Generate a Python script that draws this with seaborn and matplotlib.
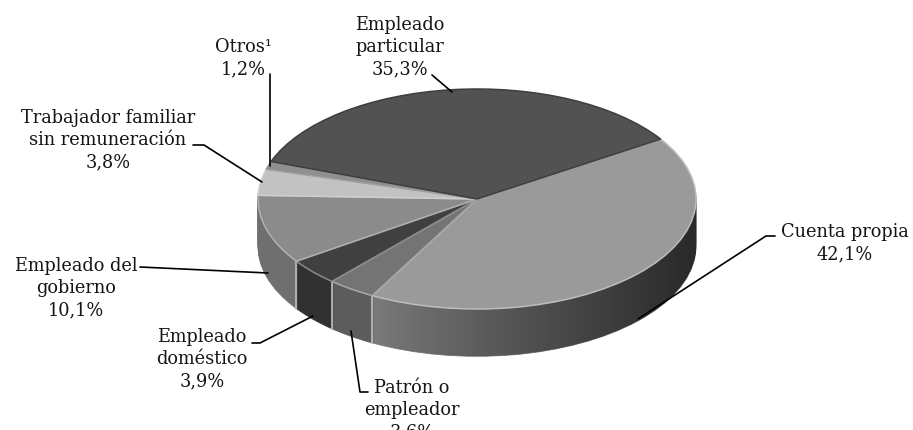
import numpy as np
import seaborn as sns
import matplotlib.pyplot as plt
from matplotlib.path import Path

# values, clockwise from the top right boundary
categories = ["Cuenta propia", "Patrón o empleador", "Empleado doméstico",
              "Empleado del gobierno", "Trabajador familiar sin remuneración",
              "Otros¹", "Empleado particular"]
shares = [42.1, 3.6, 3.9, 10.1, 3.8, 1.2, 35.3]

top_colors = ["#9a9a9a", "#747474", "#404040", "#8b8b8b", "#c2c2c2", "#8f8f8f", "#525252"]
side_colors = ["#7c7c7c", "#5c5c5c", "#313131", "#6f6f6f", "#888888", "#666666", "#3c3c3c"]
edge_colors = ["#bdbdbd", "#a8a8a8", "#8a8a8a", "#b0b0b0", "#cfcfcf", "#a0a0a0", "#3e3e3e"]

labels = ["Empleado\nparticular\n35,3%", "Otros¹\n1,2%",
          "Trabajador familiar\nsin remuneración\n3,8%", "Cuenta propia\n42,1%",
          "Empleado del\ngobierno\n10,1%", "Empleado\ndoméstico\n3,9%",
          "Patrón o\nempleador\n3,6%"]
label_pos = [(400, 47), (243, 58), (108, 140), (845, 243), (76, 288), (202, 359), (412, 410)]

leaders = [
    [(432, 76), (452, 93)],
    [(270, 75), (270, 167)],
    [(193, 146), (204, 146), (262, 183)],
    [(775, 237), (766, 237), (638, 320)],
    [(140, 268), (268, 274)],
    [(252, 344), (260, 344), (313, 317)],
    [(368, 393), (360, 393), (351, 332)],
]

W, H = 913, 431
cx, cy, rx, ry = 477, 200, 219, 110
depth = 0.43
start = 33

sns.set_theme(style="white")
plt.rcParams["font.family"] = ["DejaVu Serif"]

fig = plt.figure(figsize=(W / 100, H / 100), dpi=100, facecolor="white")
ax = fig.add_axes([0, 0, 1, 1])

# side of the disc: the same pie stacked downwards
side_wedges = []
for d in np.linspace(depth, 0.01, 30):
    w, _ = ax.pie(shares, startangle=start, counterclock=False, center=(0, -d),
                  colors=side_colors, wedgeprops={"linewidth": 0.6, "zorder": 1})
    for p, c in zip(w, side_colors):
        p.set_edgecolor(c)
    side_wedges.append(w[0])

# shade of the big slice gets darker to the right
clip = Path.make_compound_path(*[p.get_path() for p in side_wedges])
shade = np.zeros((2, 256, 4))
shade[..., 3] = 0.68 * np.linspace(0, 1, 256) ** 0.9
im = ax.imshow(shade, extent=(-0.5, 1.02, -1.5, 0.6), aspect="auto", zorder=2)
im.set_clip_path(clip, transform=ax.transData)

# top of the disc
top, _ = ax.pie(shares, startangle=start, counterclock=False, colors=top_colors,
                wedgeprops={"linewidth": 1.1, "zorder": 3})
for p, c in zip(top, edge_colors):
    p.set_edgecolor(c)

# light seams where the front slices meet
ends = start - np.cumsum(shares) * 3.6
for a in ends[:3]:
    x, y = np.cos(np.radians(a)), np.sin(np.radians(a))
    ax.plot([x, x], [y, y - depth], color="#b8b8b8", lw=1.3, zorder=2.5)

ax.set_aspect("auto")
ax.set_xlim(-cx / rx, (W - cx) / rx)
ax.set_ylim(-(H - cy) / ry, cy / ry)
ax.axis("off")

# labels and leader lines in pixels
over = fig.add_axes([0, 0, 1, 1], facecolor="none")
over.set_xlim(0, W)
over.set_ylim(H, 0)
over.axis("off")
for txt, (x, y) in zip(labels, label_pos):
    over.text(x, y, txt, ha="center", va="center", fontsize=12.8, color="#151515",
              linespacing=1.32, clip_on=False)
for pts in leaders:
    xs, ys = zip(*pts)
    over.plot(xs, ys, color="black", lw=1.2)

fig.savefig("out.png", dpi=100)
